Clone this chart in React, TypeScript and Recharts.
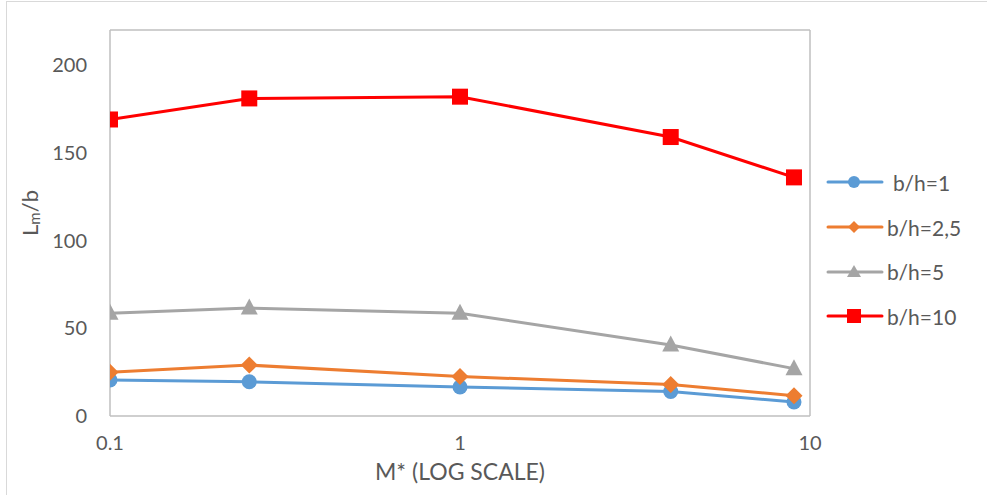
import React from 'react';
import { LineChart, Line, XAxis, YAxis, Legend, ReferenceLine } from 'recharts';

const mValues = [0.1, 0.25, 1, 4, 9];
const bh1 = [20.5, 19.5, 16.5, 14, 8];
const bh25 = [25, 29, 22.5, 18, 11.5];
const bh5 = [58.5, 61.5, 58.5, 40.5, 27];
const bh10 = [169, 181, 182, 159, 136];
const xTicks = [0.1, 1, 10];
const yTicks = [0, 50, 100, 150, 200];
const seriesNames = ['b/h=1', 'b/h=2,5', 'b/h=5', 'b/h=10'];

const data = mValues.map((m, i) => ({ m, s1: bh1[i], s2: bh25[i], s3: bh5[i], s4: bh10[i] }));

const FONT = 'Lato, "Open Sans", sans-serif';
const TEXT = '#595959';
const AXIS = '#bfbfbf';

const colors = ['#5b9bd5', '#ed7d31', '#a5a5a5', '#ff0000'];

const Circle = (p: any) => <circle cx={p.cx} cy={p.cy} r={7.5} fill={colors[0]} />;
const Diamond = (p: any) => (
  <path d={`M${p.cx},${p.cy - 8.5}L${p.cx + 8.5},${p.cy}L${p.cx},${p.cy + 8.5}L${p.cx - 8.5},${p.cy}Z`} fill={colors[1]} />
);
const Tri = (p: any) => (
  <path d={`M${p.cx},${p.cy - 9.5}L${p.cx + 8.5},${p.cy + 6.5}L${p.cx - 8.5},${p.cy + 6.5}Z`} fill={colors[2]} />
);
const Sq = (p: any) => <rect x={p.cx - 8} y={p.cy - 8} width={16} height={16} fill={colors[3]} />;

const markers = [Circle, Diamond, Tri, Sq];
const legendMarks = [
  (cx: number, cy: number) => <circle cx={cx} cy={cy} r={6} fill={colors[0]} />,
  (cx: number, cy: number) => <path d={`M${cx},${cy - 6}L${cx + 6},${cy}L${cx},${cy + 6}L${cx - 6},${cy}Z`} fill={colors[1]} />,
  (cx: number, cy: number) => <path d={`M${cx},${cy - 7}L${cx + 7},${cy + 5}L${cx - 7},${cy + 5}Z`} fill={colors[2]} />,
  (cx: number, cy: number) => <rect x={cx - 7} y={cy - 7} width={14} height={14} fill={colors[3]} />,
];

const LegendContent = () => (
  <div style={{ fontFamily: FONT, fontSize: 21, color: TEXT }}>
    {seriesNames.map((n, i) => (
      <div key={n} style={{ display: 'flex', alignItems: 'center', height: 44.7 }}>
        <svg width={60} height={20} style={{ display: 'block' }}>
          <line x1={2} y1={10} x2={56} y2={10} stroke={colors[i]} strokeWidth={3} strokeLinecap="round" />
          {legendMarks[i](28, 10)}
        </svg>
        <span style={{ marginLeft: i === 0 ? 7 : 1 }}>{n}</span>
      </div>
    ))}
  </div>
);

const YLabel = (props: any) => {
  const vb = props.viewBox;
  const cx = 29;
  const cy = vb.y + vb.height / 2 - 10;
  return (
    <text transform={`rotate(-90 ${cx} ${cy})`} x={cx} y={cy} textAnchor="middle" dominantBaseline="central" fill={TEXT} fontFamily={FONT} fontSize={22}>
      L<tspan fontSize={15} dy={5}>m</tspan><tspan dy={-5}>/b</tspan>
    </text>
  );
};

const XLabel = (props: any) => {
  const vb = props.viewBox;
  return (
    <text x={vb.x + vb.width / 2} y={vb.y + 55} textAnchor="middle" dominantBaseline="central" fill={TEXT} fontFamily={FONT} fontSize={23}>
      M* (LOG SCALE)
    </text>
  );
};

export default function App() {
  return (
    <div style={{ position: 'absolute', left: 0, top: 0, width: 987, height: 495, overflow: 'hidden', background: '#fff' }}>
      <div style={{ position: 'absolute', left: 6, top: 1, width: 1200, height: 1200, border: '1px solid #d9d9d9' }} />
      <div style={{ position: 'absolute', left: 0, top: 0 }}>
        <LineChart width={987} height={495} data={data} margin={{ top: 30, right: 177, bottom: 0, left: 50 }}>
          <XAxis
            dataKey="m"
            type="number"
            scale="log"
            domain={[0.1, 10]}
            ticks={xTicks}
            tickFormatter={(v: number) => String(v)}
            allowDataOverflow
            height={79}
            stroke={AXIS}
            strokeWidth={1.5}
            tickLine={false}
            tickSize={0}
            tickMargin={20}
            tick={{ fill: TEXT, fontFamily: FONT, fontSize: 20 }}
            label={<XLabel />}
          />
          <YAxis
            type="number"
            domain={[0, 220]}
            ticks={yTicks}
            width={60}
            stroke={AXIS}
            strokeWidth={1.5}
            tickLine={false}
            tickSize={0}
            tickMargin={23}
            tick={{ fill: TEXT, fontFamily: FONT, fontSize: 20 }}
            label={<YLabel />}
          />
          <ReferenceLine y={220} stroke={AXIS} strokeWidth={1.5} ifOverflow="extendDomain" />
          <ReferenceLine x={10} stroke={AXIS} strokeWidth={1.5} />
          {['s1', 's2', 's3', 's4'].map((k, i) => (
            <Line
              key={k}
              dataKey={k}
              name={seriesNames[i]}
              stroke={colors[i]}
              strokeWidth={3}
              dot={markers[i]}
              activeDot={false}
              isAnimationActive={false}
            />
          ))}
          <Legend
            layout="horizontal"
            verticalAlign="middle"
            align="center"
            content={<LegendContent />}
            wrapperStyle={{ position: 'absolute', left: 826, top: 160, width: 160 }}
          />
        </LineChart>
      </div>
    </div>
  );
}
